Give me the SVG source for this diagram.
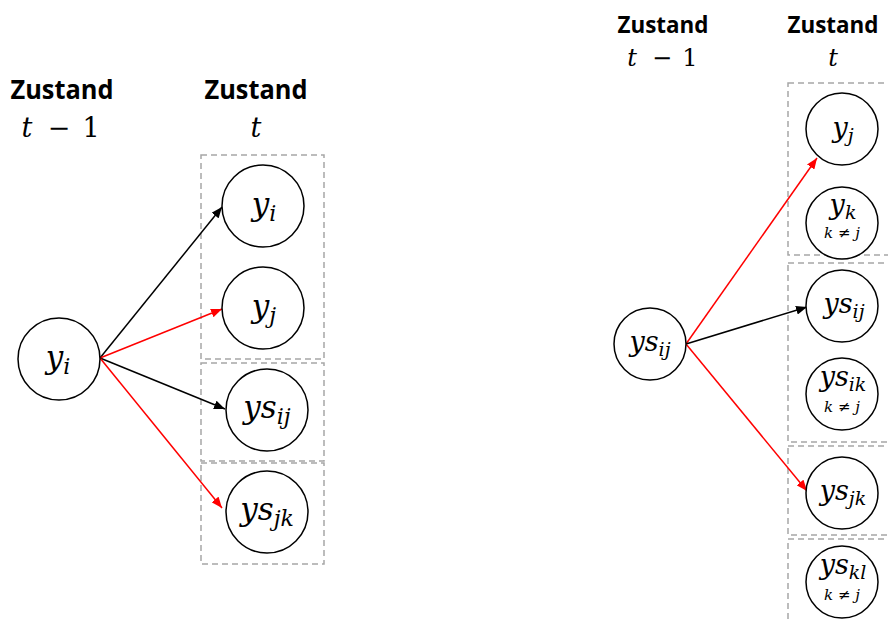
<svg xmlns="http://www.w3.org/2000/svg" width="888" height="623" viewBox="0 0 888 623">
  <style>
    .hdr { font-family: "Open Sans", "Liberation Sans", sans-serif; font-weight: bold; fill: #000; text-anchor: middle; }
    .math { font-family: "DejaVu Serif", "Liberation Serif", serif; font-style: italic; fill: #000; text-anchor: middle; }
    .up { font-style: normal; }
    .node { fill: #fff; stroke: #000; stroke-width: 1.5; }
    .grp { fill: none; stroke: #a6a6a6; stroke-width: 1.5; stroke-dasharray: 6 4; }
    .edge { fill: none; stroke-width: 1.5; }
    .blk { stroke: #000; }
    .red { stroke: #ff0000; }
  </style>
  <defs>
    <marker id="ahBlack" markerUnits="userSpaceOnUse" markerWidth="12" markerHeight="9" refX="11" refY="4.5" orient="auto">
      <path d="M0,0 L11,4.5 L0,9 z" fill="#000"/>
    </marker>
    <marker id="ahRed" markerUnits="userSpaceOnUse" markerWidth="12" markerHeight="9" refX="11" refY="4.5" orient="auto">
      <path d="M0,0 L11,4.5 L0,9 z" fill="#ff0000"/>
    </marker>
  </defs>

  <!-- ===== Left panel ===== -->
  <g id="left-headers">
    <text class="hdr" x="62" y="99" font-size="27" textLength="103" lengthAdjust="spacingAndGlyphs">Zustand</text>
    <text class="math" x="27" y="137" font-size="27">t</text>
    <text class="math up" x="59" y="137" font-size="27">−</text>
    <text class="math up" x="91" y="137" font-size="27">1</text>
    <text class="hdr" x="256" y="99" font-size="27" textLength="103" lengthAdjust="spacingAndGlyphs">Zustand</text>
    <text class="math" x="256" y="137" font-size="27">t</text>
  </g>

  <g id="left-groups">
    <rect class="grp" x="201" y="155" width="123" height="204"/>
    <rect class="grp" x="201" y="363" width="123" height="98"/>
    <rect class="grp" x="201" y="463" width="123" height="101"/>
  </g>

  <g id="left-edges">
    <line class="edge blk" x1="100" y1="358" x2="222" y2="207" marker-end="url(#ahBlack)"/>
    <line class="edge red" x1="100" y1="358" x2="222" y2="309" marker-end="url(#ahRed)"/>
    <line class="edge blk" x1="100" y1="358" x2="225" y2="409" marker-end="url(#ahBlack)"/>
    <line class="edge red" x1="100" y1="358" x2="222" y2="508" marker-end="url(#ahRed)"/>
  </g>

  <g id="L-src-yi">
    <circle class="node" cx="59" cy="359" r="41"/>
    <text class="math" x="58" y="368" font-size="31">y<tspan font-size="22" dy="6">i</tspan></text>
  </g>
  <g id="L-yi">
    <circle class="node" cx="263" cy="206" r="41"/>
    <text class="math" x="264" y="215" font-size="31">y<tspan font-size="22" dy="6">i</tspan></text>
  </g>
  <g id="L-yj">
    <circle class="node" cx="263" cy="308" r="41"/>
    <text class="math" x="264" y="317" font-size="31">y<tspan font-size="22" dy="6">j</tspan></text>
  </g>
  <g id="L-ysij">
    <circle class="node" cx="267" cy="410" r="41"/>
    <text class="math" x="267" y="418" font-size="31">ys<tspan font-size="22" dy="6">ij</tspan></text>
  </g>
  <g id="L-ysjk">
    <circle class="node" cx="267" cy="512" r="41"/>
    <text class="math" x="267" y="520" font-size="31">ys<tspan font-size="22" dy="6">jk</tspan></text>
  </g>

  <!-- ===== Right panel ===== -->
  <g id="right-headers">
    <text class="hdr" x="663" y="33" font-size="24" textLength="91" lengthAdjust="spacingAndGlyphs">Zustand</text>
    <text class="math" x="632" y="66" font-size="24">t</text>
    <text class="math up" x="662" y="66" font-size="24">−</text>
    <text class="math up" x="690" y="66" font-size="24">1</text>
    <text class="hdr" x="833" y="33" font-size="24" textLength="91" lengthAdjust="spacingAndGlyphs">Zustand</text>
    <text class="math" x="833" y="66" font-size="24">t</text>
  </g>

  <g id="right-groups">
    <rect class="grp" x="788" y="83" width="120" height="172"/>
    <rect class="grp" x="788" y="263" width="120" height="179"/>
    <rect class="grp" x="788" y="446" width="120" height="89"/>
    <rect class="grp" x="788" y="539" width="120" height="110"/>
  </g>

  <g id="right-edges">
    <line class="edge red" x1="686" y1="344" x2="817" y2="158" marker-end="url(#ahRed)"/>
    <line class="edge blk" x1="686" y1="344" x2="807" y2="307" marker-end="url(#ahBlack)"/>
    <line class="edge red" x1="686" y1="344" x2="807" y2="491" marker-end="url(#ahRed)"/>
  </g>

  <g id="R-src-ysij">
    <circle class="node" cx="650" cy="344" r="36"/>
    <text class="math" x="650" y="351" font-size="27">ys<tspan font-size="19" dy="5">ij</tspan></text>
  </g>
  <g id="R-yj">
    <circle class="node" cx="842" cy="129" r="36"/>
    <text class="math" x="843" y="137" font-size="27">y<tspan font-size="19" dy="5">j</tspan></text>
  </g>
  <g id="R-yk">
    <circle class="node" cx="842" cy="223" r="36"/>
    <text class="math" x="843" y="214" font-size="27">y<tspan font-size="19" dy="5">k</tspan></text>
    <text class="math" x="842" y="238" font-size="15">k <tspan class="up">≠</tspan> j</text>
  </g>
  <g id="R-ysij">
    <circle class="node" cx="842" cy="306" r="36"/>
    <text class="math" x="844" y="313" font-size="27">ys<tspan font-size="19" dy="5">ij</tspan></text>
  </g>
  <g id="R-ysik">
    <circle class="node" cx="842" cy="394" r="36"/>
    <text class="math" x="843" y="386" font-size="27">ys<tspan font-size="19" dy="5">ik</tspan></text>
    <text class="math" x="842" y="412" font-size="15">k <tspan class="up">≠</tspan> j</text>
  </g>
  <g id="R-ysjk">
    <circle class="node" cx="842" cy="493" r="36"/>
    <text class="math" x="843" y="500" font-size="27">ys<tspan font-size="19" dy="5">jk</tspan></text>
  </g>
  <g id="R-yskl">
    <circle class="node" cx="842" cy="582" r="36"/>
    <text class="math" x="843" y="574" font-size="27">ys<tspan font-size="19" dy="5">kl</tspan></text>
    <text class="math" x="842" y="600" font-size="15">k <tspan class="up">≠</tspan> j</text>
  </g>
</svg>
